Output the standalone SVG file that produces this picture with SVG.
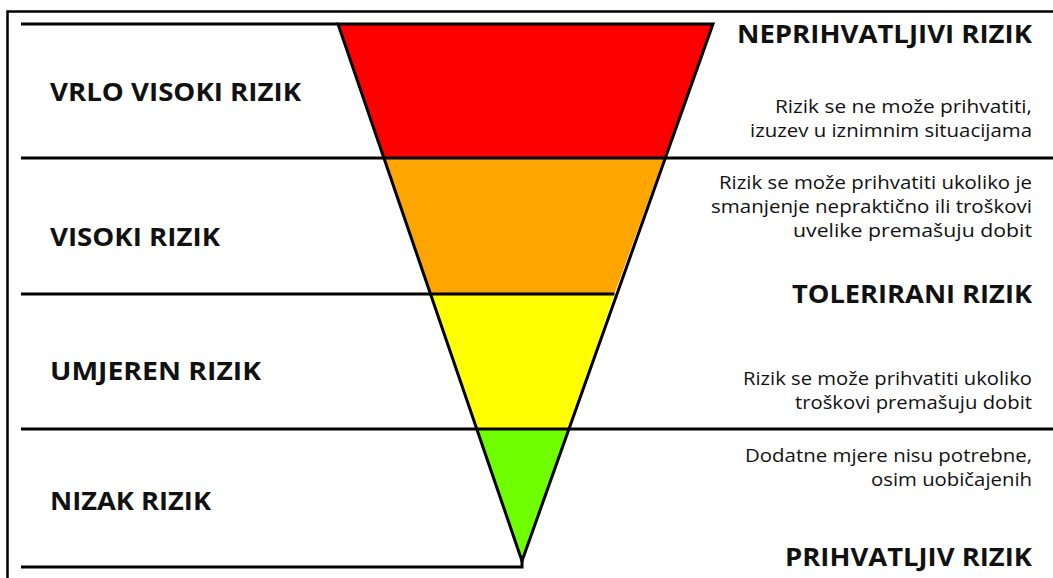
<svg xmlns="http://www.w3.org/2000/svg" width="1053" height="578" viewBox="0 0 1053 578">
<style>
.ln{stroke:#000;stroke-width:3;fill:none}
.h{font-family:"Open Sans","Liberation Sans",sans-serif;font-weight:bold;font-size:25px;fill:#111}
.s{font-family:"Open Sans","Liberation Sans",sans-serif;font-size:17.5px;fill:#111;text-anchor:end}
.r{text-anchor:end}
</style>
<rect width="1053" height="578" fill="#fff"/>
<path d="M7.5 590 V11.5 H1060" stroke="#000" stroke-width="2.5" fill="none"/>
<g id="pyramid">
<polygon id="band-red" points="338,24 713,24 664,158 383.7,158" fill="#ff0000"/>
<polygon id="band-orange" points="383.7,158 664,158 614.4,294 430,294" fill="#ffa500"/>
<polygon id="band-yellow" points="430,294 614.4,294 569,429 476.8,429" fill="#ffff00"/>
<polygon id="band-green" points="476.8,429 569,429 522,561" fill="#6fff00"/>
<polygon points="338,24 713,24 522,561" class="ln" stroke-linejoin="miter"/>
</g>
<g id="connectors">
<line x1="21" y1="24" x2="338" y2="24" class="ln"/>
<line x1="21" y1="158" x2="1053" y2="158" class="ln"/>
<line x1="21" y1="294" x2="614.4" y2="294" class="ln"/>
<line x1="21" y1="429" x2="1053" y2="429" class="ln"/>
<polyline points="21,567 522,567 522,559" class="ln"/>
</g>
<g id="left-labels">
<text class="h" x="50" y="101" textLength="251" lengthAdjust="spacingAndGlyphs">VRLO VISOKI RIZIK</text>
<text class="h" x="50" y="246" textLength="170" lengthAdjust="spacingAndGlyphs">VISOKI RIZIK</text>
<text class="h" x="50" y="380" textLength="211" lengthAdjust="spacingAndGlyphs">UMJEREN RIZIK</text>
<text class="h" x="50" y="510" textLength="161" lengthAdjust="spacingAndGlyphs">NIZAK RIZIK</text>
</g>
<g id="right-labels">
<text class="h r" x="1032" y="43" textLength="295" lengthAdjust="spacingAndGlyphs">NEPRIHVATLJIVI RIZIK</text>
<text class="s" x="1032" y="113" textLength="257" lengthAdjust="spacingAndGlyphs">Rizik se ne može prihvatiti,</text>
<text class="s" x="1032" y="137" textLength="282" lengthAdjust="spacingAndGlyphs">izuzev u iznimnim situacijama</text>
<text class="s" x="1032" y="189" textLength="313" lengthAdjust="spacingAndGlyphs">Rizik se može prihvatiti ukoliko je</text>
<text class="s" x="1032" y="213" textLength="321" lengthAdjust="spacingAndGlyphs">smanjenje nepraktično ili troškovi</text>
<text class="s" x="1032" y="237" textLength="239" lengthAdjust="spacingAndGlyphs">uvelike premašuju dobit</text>
<text class="h r" x="1032" y="303" textLength="240" lengthAdjust="spacingAndGlyphs">TOLERIRANI RIZIK</text>
<text class="s" x="1032" y="385" textLength="289" lengthAdjust="spacingAndGlyphs">Rizik se može prihvatiti ukoliko</text>
<text class="s" x="1032" y="409" textLength="237" lengthAdjust="spacingAndGlyphs">troškovi premašuju dobit</text>
<text class="s" x="1032" y="462" textLength="287" lengthAdjust="spacingAndGlyphs">Dodatne mjere nisu potrebne,</text>
<text class="s" x="1032" y="486" textLength="161" lengthAdjust="spacingAndGlyphs">osim uobičajenih</text>
<text class="h r" x="1032" y="566" textLength="247" lengthAdjust="spacingAndGlyphs">PRIHVATLJIV RIZIK</text>
</g>
</svg>
